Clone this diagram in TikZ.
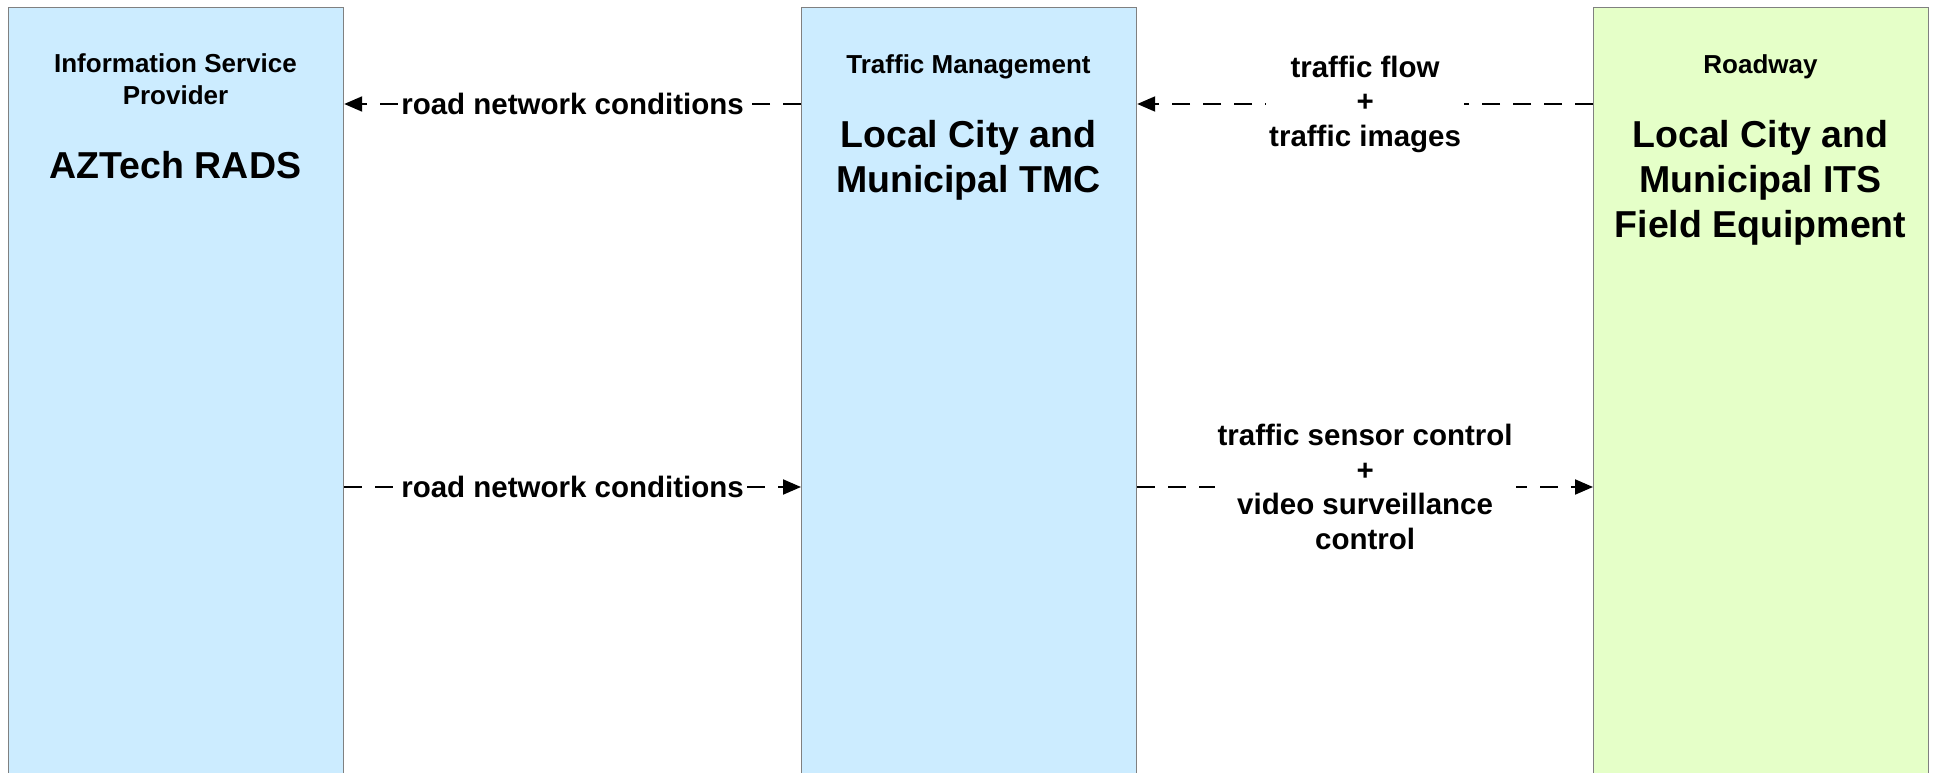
\documentclass[tikz,border=0pt]{standalone}
\usepackage{fontspec}
\setmainfont{Liberation Sans}
\usetikzlibrary{arrows.meta}
\definecolor{boxblue}{HTML}{CCECFF}
\definecolor{boxgreen}{HTML}{E5FFC8}
\definecolor{boxline}{HTML}{808080}
\tikzset{
  sysbox/.style={draw=boxline, line width=1.2pt, minimum width=335pt, minimum height=790pt, anchor=north west, inner sep=0pt},
  smallhead/.style={font=\fontsize{26}{32}\selectfont\bfseries, align=center, inner sep=0pt, anchor=base},
  bighead/.style={font=\fontsize{37.5}{45}\selectfont\bfseries, align=center, inner sep=0pt, anchor=base},
  flowlbl/.style={font=\fontsize{29.5}{34.5}\selectfont\bfseries, align=center, fill=white, inner xsep=3pt, inner ysep=1pt},
  flow/.style={line width=2pt, dash pattern=on 18pt off 13pt, -{Triangle[length=18pt,width=15pt]}},
}
\begin{document}
\begin{tikzpicture}[x=1pt,y=-1pt]
\useasboundingbox[fill=white] (0,0) rectangle (1937,773);
% boxes
\node[sysbox, fill=boxblue] (isp) at (8,7) {};
\node[sysbox, fill=boxblue] (tmc) at (801,7) {};
\node[sysbox, fill=boxgreen] (rw) at (1593,7) {};
% titles (base anchor = baseline of last line)
\node[smallhead] (ispa) at (175.5,105) {Information Service\\Provider};
\node[bighead] (ispb) at (175.5,178.5) {AZTech RADS};
\node[smallhead] (tmca) at (968.5,74) {Traffic Management};
\node[bighead] (tmcb) at (968.5,192) {Local City and\\Municipal TMC};
\node[smallhead] (rwa) at (1760.5,74) {Roadway};
\node[bighead] (rwb) at (1760.5,237) {Local City and\\Municipal ITS\\Field Equipment};
% flow rows
\coordinate (r1) at (0,104);
\coordinate (r2) at (0,487);
\draw[flow] (tmc.west |- r1) -- (isp.east |- r1)
  node[flowlbl, midway] (f1) {road network conditions};
\draw[flow] (rw.west |- r1) -- (tmc.east |- r1)
  node[flowlbl, midway] (f2) {traffic flow\\+\\traffic images};
\draw[flow] (isp.east |- r2) -- (tmc.west |- r2)
  node[flowlbl, midway] (f3) {road network conditions};
\draw[flow] (tmc.east |- r2) -- (rw.west |- r2)
  node[flowlbl, midway] (f4) {traffic sensor control\\+\\video surveillance\\control};
\end{tikzpicture}
\end{document}
